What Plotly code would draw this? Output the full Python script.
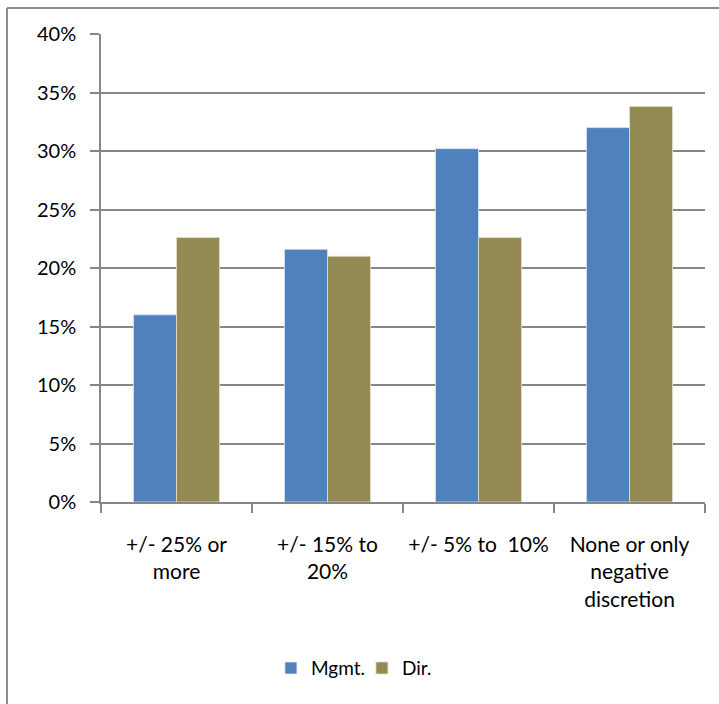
import plotly.graph_objects as go

categories = ["+/- 25% or<br>more", "+/- 15% to<br>20%", "+/- 5% to  10%", "None or only<br>negative<br>discretion"]
mgmt = [0.160, 0.216, 0.302, 0.320]
director = [0.226, 0.210, 0.226, 0.338]

GRID = "#878787"
FONT = "Lato, Liberation Sans, sans-serif"

fig = go.Figure()
fig.add_trace(go.Bar(name="Mgmt.", x=categories, y=mgmt,
                     marker=dict(color="#4F81BD", line=dict(color="#DCE6F2", width=0.8))))
fig.add_trace(go.Bar(name="Dir.", x=categories, y=director,
                     marker=dict(color="#948A54", line=dict(color="#E4E0CC", width=0.8))))

fig.update_layout(
    width=719, height=704,
    margin=dict(l=101, r=14, t=34, b=202),
    paper_bgcolor="white", plot_bgcolor="white",
    barmode="group", bargap=0.43, bargroupgap=0,
    font=dict(family=FONT, size=20, color="#000000"),
    showlegend=True,
    legend=dict(orientation="h", x=0.432, xanchor="center", y=-0.355, yanchor="middle",
                font=dict(family=FONT, size=19), itemwidth=30, traceorder="normal",
                entrywidth=46, entrywidthmode="pixels"),
    shapes=[
        dict(type="line", xref="paper", yref="paper", x0=-0.1556, x1=-0.1556, y0=1.0556, y1=-0.44,
             line=dict(color="#8c8c8c", width=2)),
        dict(type="line", xref="paper", yref="paper", x0=-0.1556, x1=1.03, y0=1.0556, y1=1.0556,
             line=dict(color="#8c8c8c", width=2)),
    ],
)

fig.update_yaxes(
    range=[0, 0.4], dtick=0.05, tickformat=".0%",
    showgrid=True, gridcolor=GRID, gridwidth=1.5,
    showline=True, linecolor=GRID, linewidth=1.5,
    ticks="outside", ticklen=9, tickcolor=GRID, tickwidth=1.5,
    tickfont=dict(family=FONT, size=20), ticklabelstandoff=10,
    zeroline=False,
)
fig.update_xaxes(
    showline=True, linecolor=GRID, linewidth=1.5,
    ticks="outside", ticklen=9, tickcolor=GRID, tickwidth=1.5, tickson="boundaries",
    tickfont=dict(family=FONT, size=21), ticklabelstandoff=23,
    showgrid=False,
)

fig.write_html("out.html")
